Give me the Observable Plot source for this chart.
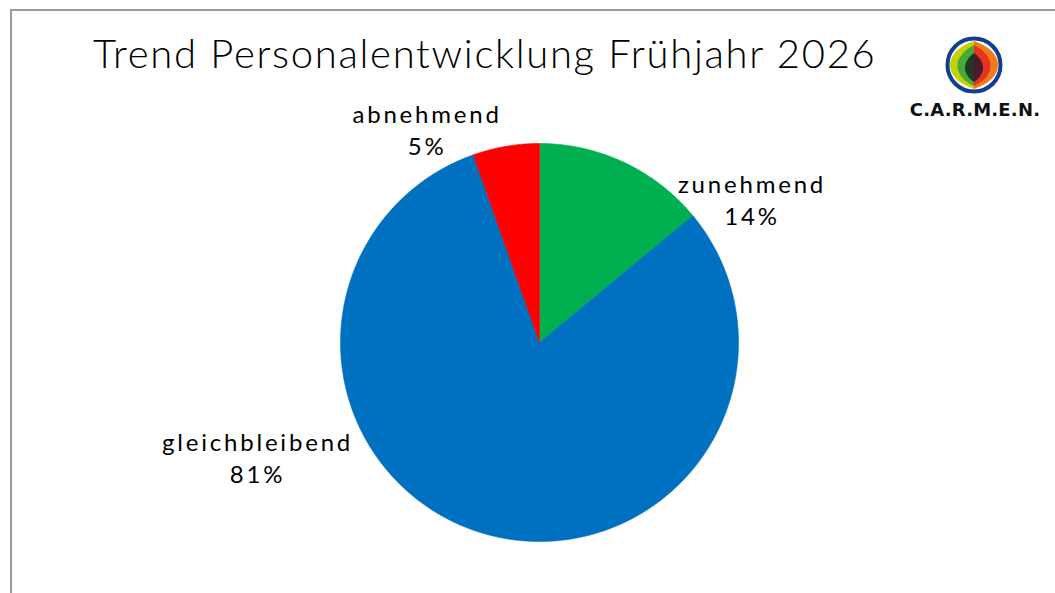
<!DOCTYPE html>
<html>
<head>
<meta charset="utf-8">
<script src="https://cdn.jsdelivr.net/npm/d3@7"></script>
<script src="https://cdn.jsdelivr.net/npm/@observablehq/plot@0.6"></script>
<style>
  html, body { margin: 0; padding: 0; background: #fff; }
  #wrap { position: relative; width: 1055px; height: 593px; overflow: hidden; font-family: Lato, "Open Sans", sans-serif; }
  #frame { position: absolute; left: 10px; top: 9px; width: 1100px; height: 700px; border-top: 2px solid #9a9a9a; border-left: 2px solid #9a9a9a; }
  #title { position: absolute; left: 93px; top: 26px; font-size: 40px; font-weight: 300; letter-spacing: 1.7px; color: #000; white-space: nowrap; line-height: 54px; }
  #chart { position: absolute; left: 0; top: 0; }
  #chart text { letter-spacing: 2.8px; }
  #logo { position: absolute; left: 905px; top: 30px; }
</style>
</head>
<body>
<div id="wrap">
  <div id="frame"></div>
  <div id="chart"></div>
  <div id="title">Trend Personalentwicklung Frühjahr 2026</div>
  <svg id="logo" width="140" height="100" viewBox="0 0 140 100">
    <g transform="translate(69,35)">
      <circle r="26.5" fill="#fff" stroke="#123f8c" stroke-width="4"/>
      <path d="M0,-24 C-32,-13 -32,13 0,24 Z" fill="#c6d200"/>
      <path d="M0,-24 C32,-13 32,13 0,24 Z" fill="#f07a1e"/>
      <path d="M0,-20 C-22,-9 -22,11 0,21 Z" fill="#49a83a"/>
      <path d="M0,-20 C22,-9 22,11 0,21 Z" fill="#e5341f"/>
      <path d="M0,-12 C-12,-3 -12,9 0,17 Z" fill="#1d3a22"/>
      <path d="M0,-12 C12,-3 12,9 0,17 Z" fill="#4b1b2c"/>
    </g>
    <text x="70" y="86" text-anchor="middle" font-family="'DejaVu Sans', sans-serif" font-weight="bold" font-size="18" fill="#111" letter-spacing="0.2">C.A.R.M.E.N.</text>
  </svg>
</div>
<script>
// ---- data ----
const categories = ["zunehmend", "gleichbleibend", "abnehmend"];
const shares = [14.0, 80.6, 5.4];
const percentLabels = ["14%", "81%", "5%"];
const sliceColors = ["#00B050", "#0070C0", "#FF0000"];

// ---- layout (pixels / radius units) ----
const W = 1055, H = 593;
const cx = 539, cy = 342, R = 199;
const labelAnchor = { // in units of the pie radius, relative to centre (y up)
  zunehmend: [1.068, 0.724],
  gleichbleibend: [-1.417, -0.573],
  abnehmend: [-0.565, 1.075]
};

const table = categories.map((c, i) => ({ category: c, share: shares[i], label: c + "\n" + percentLabels[i] }));
const arcs = d3.pie().sort(null).value(d => d.share)(table);

// polygon outline of each slice, in radius units
const outline = [];
for (const a of arcs) {
  const key = a.data.category;
  outline.push({ key, x: 0, y: 0 });
  const n = Math.max(2, Math.ceil((a.endAngle - a.startAngle) / (Math.PI / 360)));
  for (let k = 0; k <= n; k++) {
    const t = a.startAngle + (a.endAngle - a.startAngle) * k / n;
    outline.push({ key, x: Math.sin(t), y: Math.cos(t) });
  }
  outline.push({ key, x: 0, y: 0 });
}

const labels = table.map(d => ({ label: d.label, x: labelAnchor[d.category][0], y: labelAnchor[d.category][1] }));

const chart = Plot.plot({
  width: W, height: H,
  margin: 0,
  x: { domain: [-cx / R, (W - cx) / R], axis: null },
  y: { domain: [-(H - cy) / R, cy / R], axis: null },
  color: { domain: categories, range: sliceColors },
  style: { background: "transparent", overflow: "visible" },
  marks: [
    Plot.line(outline, { x: "x", y: "y", z: "key", fill: "key", stroke: "key", strokeWidth: 0.6, curve: "linear" }),
    Plot.text(labels, { x: "x", y: "y", text: "label", fontSize: 24, lineHeight: 1.36, fill: "#000", fontFamily: "Lato, 'Open Sans', sans-serif" })
  ]
});
document.getElementById("chart").appendChild(chart);
</script>
</body>
</html>
